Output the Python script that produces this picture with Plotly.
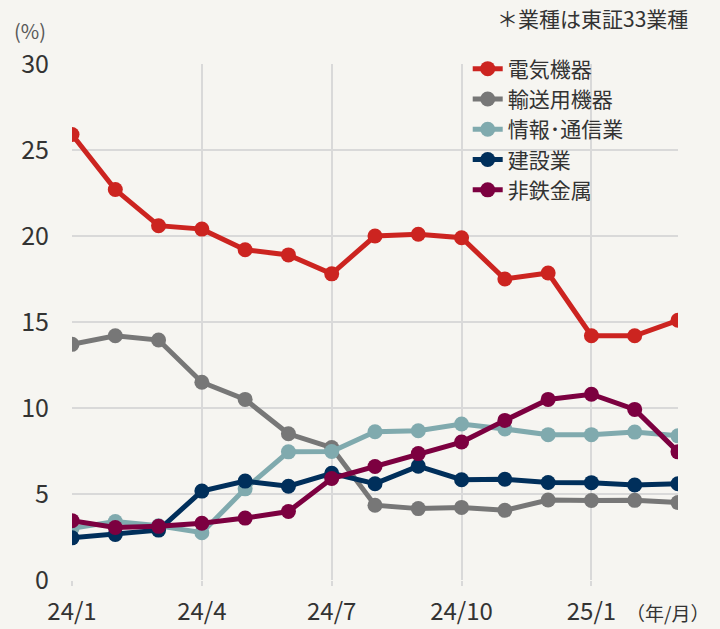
import plotly.graph_objects as go

months = ["24/1","24/2","24/3","24/4","24/5","24/6","24/7","24/8","24/9","24/10","24/11","24/12","25/1","25/2","25/3"]
tick_labels = ["24/1","24/4","24/7","24/10","25/1"]
tick_idx = [0, 3, 6, 9, 12]

denki = [25.9, 22.7, 20.6, 20.4, 19.2, 18.9, 17.8, 20.0, 20.1, 19.9, 17.5, 17.85, 14.2, 14.2, 15.1]
yuso = [13.7, 14.2, 13.95, 11.5, 10.5, 8.5, 7.7, 4.35, 4.15, 4.22, 4.05, 4.65, 4.62, 4.63, 4.5]
joho = [3.0, 3.4, 3.15, 2.75, 5.3, 7.45, 7.47, 8.62, 8.68, 9.07, 8.78, 8.45, 8.45, 8.6, 8.38]
kensetsu = [2.45, 2.65, 2.9, 5.17, 5.75, 5.45, 6.2, 5.6, 6.62, 5.83, 5.86, 5.67, 5.66, 5.52, 5.6]
hitetsu = [3.45, 3.05, 3.12, 3.3, 3.6, 3.98, 5.9, 6.6, 7.35, 8.02, 9.28, 10.5, 10.8, 9.92, 7.45]

series = [
    ("電気機器", denki, "#cc2420"),
    ("輸送用機器", yuso, "#777777"),
    ("情報･通信業", joho, "#80aaae"),
    ("建設業", kensetsu, "#002f5b"),
    ("非鉄金属", hitetsu, "#7c0040"),
]

fig = go.Figure()
x = list(range(len(months)))
for name, vals, col in series:
    fig.add_trace(go.Scatter(
        x=x, y=vals, name=name, mode="lines+markers",
        line=dict(color=col, width=5),
        marker=dict(color=col, size=15),
    ))

BG = "#f6f5f1"
font_family = "Noto Sans CJK JP, Noto Sans, sans-serif"
fig.update_layout(
    width=720, height=629,
    paper_bgcolor=BG, plot_bgcolor=BG,
    margin=dict(l=72, r=42, t=64, b=49, autoexpand=False),
    font=dict(family=font_family, color="#333333", size=22),
    showlegend=True,
    legend=dict(x=0.653, y=1.03, xanchor="left", yanchor="top",
                bgcolor="rgba(0,0,0,0)", font=dict(size=21, color="#333333"),
                tracegroupgap=0, itemwidth=30),
    xaxis=dict(range=[0, 14], tickvals=tick_idx, ticktext=tick_labels,
               showgrid=True, gridcolor="#d9d9d9", gridwidth=2,
               zeroline=False, showline=False, automargin=False,
               ticks="outside", ticklen=5, tickcolor="#d9d9d9", tickwidth=2,
               ticklabelstandoff=5,
               tickfont=dict(size=24, color="#333333")),
    yaxis=dict(range=[0, 30], tickvals=[0, 5, 10, 15, 20, 25, 30],
               showgrid=True, gridcolor="#d9d9d9", gridwidth=2,
               zeroline=False, showline=False, ticklabelstandoff=22,
               automargin=False,
               tickfont=dict(size=25, color="#333333")),
    annotations=[
        dict(text="(%)", x=12, y=30, showarrow=False,
             font=dict(size=20, color="#595959"), xanchor="left", yanchor="middle"),
        dict(text="＊業種は東証33業種", x=690, y=18, showarrow=False,
             font=dict(size=21, color="#333333"), xanchor="right", yanchor="middle"),
        dict(text="（年/月）", x=711, y=612, showarrow=False,
             font=dict(size=19, color="#333333"), xanchor="right", yanchor="middle"),
    ],
)
# convert pixel annotation positions to paper coordinates
pw, ph = 720 - 72 - 42, 629 - 64 - 49
for a in fig.layout.annotations:
    a.xref = "paper"; a.yref = "paper"
    a.x = (a.x - 72) / pw
    a.y = (629 - 49 - a.y) / ph

fig.write_html("out.html", config={"displayModeBar": False},
               post_script="document.body.style.margin='0';document.body.style.background='%s';" % BG)
